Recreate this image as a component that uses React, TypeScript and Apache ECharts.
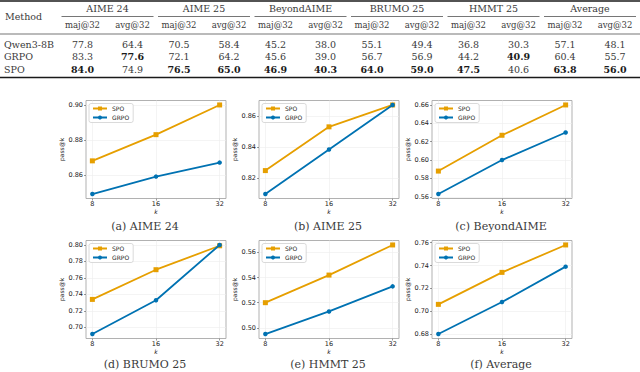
import React, { useEffect, useRef } from "react";
import * as echarts from "echarts";

// ---------- Table data ----------
const benchmarks = ["AIME 24", "AIME 25", "BeyondAIME", "BRUMO 25", "HMMT 25", "Average"];
const subHeaders = ["maj@32", "avg@32"];
const methods = ["Qwen3-8B", "GRPO", "SPO"];
const qwenScores = [77.8, 64.4, 70.5, 58.4, 45.2, 38.0, 55.1, 49.4, 36.8, 30.3, 57.1, 48.1];
const grpoScores = [83.3, 77.6, 72.1, 64.2, 45.6, 39.0, 56.7, 56.9, 44.2, 40.9, 60.4, 55.7];
const spoScores = [84.0, 74.9, 76.5, 65.0, 46.9, 40.3, 64.0, 59.0, 47.5, 40.6, 63.8, 56.0];

// ---------- Chart data (pass@k vs k) ----------
const ks = [8, 16, 32];
const spoAime24 = [0.868, 0.883, 0.900];
const grpoAime24 = [0.849, 0.859, 0.867];
const spoAime25 = [0.825, 0.853, 0.867];
const grpoAime25 = [0.810, 0.8385, 0.867];
const spoBeyond = [0.588, 0.627, 0.660];
const grpoBeyond = [0.563, 0.600, 0.630];
const spoBrumo = [0.734, 0.770, 0.799];
const grpoBrumo = [0.692, 0.733, 0.800];
const spoHmmt = [0.520, 0.542, 0.566];
const grpoHmmt = [0.495, 0.513, 0.533];
const spoAverage = [0.706, 0.734, 0.758];
const grpoAverage = [0.680, 0.708, 0.739];

const yTicksAime24 = [0.86, 0.88, 0.90];
const yTicksAime25 = [0.82, 0.84, 0.86];
const yTicksBeyond = [0.56, 0.58, 0.60, 0.62, 0.64, 0.66];
const yTicksBrumo = [0.70, 0.72, 0.74, 0.76, 0.78, 0.80];
const yTicksHmmt = [0.50, 0.52, 0.54, 0.56];
const yTicksAverage = [0.68, 0.70, 0.72, 0.74, 0.76];

const panelLetters = ["a", "b", "c", "d", "e", "f"];
const spoSeries = [spoAime24, spoAime25, spoBeyond, spoBrumo, spoHmmt, spoAverage];
const grpoSeries = [grpoAime24, grpoAime25, grpoBeyond, grpoBrumo, grpoHmmt, grpoAverage];
const yTicks = [yTicksAime24, yTicksAime25, yTicksBeyond, yTicksBrumo, yTicksHmmt, yTicksAverage];

// ---------- Styling / layout ----------
const ORANGE = "#E69F00";
const BLUE = "#0072B2";
const SERIF = "DejaVu Serif";
const SANS = "DejaVu Sans";
const INK = "#3a3a3a";
const INK_BOLD = "#1a1a1a";
const colLefts = [86, 259, 432];
const rowTops = [100.5, 240.5];
const plotW = 140;
const plotH = 98;
const captionX = [145, 328, 501];
const captionY = [226, 364];

const groupCenter0 = 107.5;
const groupStep = 96.5;
const pairHalf = 25;
const rowYs = [44, 56, 69];

function buildTableGraphics() {
  const els: any[] = [];
  const txt = (text: string, x: number, y: number, align: string, bold = false, size = 10) => ({
    type: "text",
    x,
    y,
    silent: true,
    style: {
      text,
      fontFamily: SERIF,
      fontSize: size,
      fontWeight: bold ? "bold" : "normal",
      fill: bold ? INK_BOLD : INK,
      align,
      verticalAlign: "middle",
    },
  });
  const line = (x1: number, y1: number, x2: number, y2: number, w: number) => ({
    type: "line",
    silent: true,
    shape: { x1, y1, x2, y2 },
    style: { stroke: "#1a1a1a", lineWidth: w },
  });
  els.push(line(0, 1, 640, 1, 1.4));
  els.push(txt("Method", 5, 16, "left", false, 9.5));
  const rows = [qwenScores, grpoScores, spoScores];
  benchmarks.forEach((b, g) => {
    const gc = groupCenter0 + g * groupStep;
    els.push(txt(b, gc, 8, "center", false, 9.5));
    els.push(line(gc - 46, 16.5, gc + 46, 16.5, 0.6));
    subHeaders.forEach((s, j) => {
      const cx = gc + (j === 0 ? -pairHalf : pairHalf);
      els.push(txt(s, cx, 25, "center", false, 8.5));
      const col = g * 2 + j;
      const best = Math.max(...rows.map((r) => r[col]));
      rows.forEach((r, ri) => {
        els.push(txt(r[col].toFixed(1), cx, rowYs[ri], "center", r[col] === best, 9.5));
      });
    });
  });
  els.push(line(0, 34, 640, 34, 0.6));
  methods.forEach((m, ri) => els.push(txt(m, 4, rowYs[ri], "left", false, 9.5)));
  els.push(line(0, 77.5, 640, 77.5, 1.4));
  return els;
}

function buildOption() {
  const grids: any[] = [];
  const xAxes: any[] = [];
  const yAxes: any[] = [];
  const legends: any[] = [];
  const series: any[] = [];
  const graphics: any[] = buildTableGraphics();

  const logLo = Math.log2(Math.min(...ks));
  const logHi = Math.log2(Math.max(...ks));
  const logPad = (logHi - logLo) * 0.05;

  for (let i = 0; i < 6; i++) {
    const c = i % 3;
    const r = Math.floor(i / 3);
    const left = colLefts[c];
    const top = rowTops[r];
    grids.push({
      left,
      top,
      width: plotW,
      height: plotH,
      show: true,
      borderColor: "#a8a8a8",
      borderWidth: 0.9,
      backgroundColor: "transparent",
      outerBoundsMode: "none",
      containLabel: false,
    });
    xAxes.push({
      type: "log",
      logBase: 2,
      gridIndex: i,
      min: Math.pow(2, logLo - logPad),
      max: Math.pow(2, logHi + logPad),
      axisLine: { show: false },
      axisTick: { show: true, length: 2, customValues: ks, lineStyle: { color: "#555", width: 0.6 } },
      axisLabel: { customValues: ks, fontSize: 6.5, color: "#222", margin: 2, fontFamily: SANS },
      splitLine: { show: true, lineStyle: { color: "#ececec", width: 0.6 } },
      minorTick: { show: false },
      minorSplitLine: { show: false },
      name: "k",
      nameLocation: "middle",
      nameGap: 6,
      nameTextStyle: { fontSize: 6, fontStyle: "italic", color: "#222", fontFamily: SANS },
    });
    const all = [...spoSeries[i], ...grpoSeries[i]];
    const lo = Math.min(...all);
    const hi = Math.max(...all);
    const pad = (hi - lo) * 0.05;
    yAxes.push({
      type: "value",
      gridIndex: i,
      min: lo - pad,
      max: hi + pad,
      axisLine: { show: false },
      axisTick: { show: true, length: 2, customValues: yTicks[i], lineStyle: { color: "#555", width: 0.6 } },
      axisLabel: {
        customValues: yTicks[i],
        fontSize: 6.5,
        color: "#222",
        margin: 3,
        fontFamily: SANS,
        formatter: (v: number) => v.toFixed(2),
      },
      splitLine: { show: true, lineStyle: { color: "#ececec", width: 0.6 } },
      name: "pass@k",
      nameLocation: "middle",
      nameGap: 17,
      nameTextStyle: { fontSize: 6, color: "#222", fontFamily: SANS },
    });
    legends.push({
      orient: "vertical",
      left: left + 3,
      top: top + 3,
      data: ["SPO", "GRPO"],
      selectedMode: false,
      backgroundColor: "rgba(255,255,255,0.9)",
      borderColor: "#d0d0d0",
      borderWidth: 0.8,
      borderRadius: 2,
      padding: [2, 4, 2, 3],
      itemGap: 3,
      itemWidth: 14,
      itemHeight: 5,
      textStyle: { fontSize: 6, color: "#222", fontFamily: SANS },
    });
    series.push({
      type: "line",
      name: "SPO",
      xAxisIndex: i,
      yAxisIndex: i,
      data: ks.map((k, j) => [k, spoSeries[i][j]]),
      symbol: "rect",
      symbolSize: 5,
      lineStyle: { width: 1.8, color: ORANGE },
      itemStyle: { color: ORANGE },
      z: 3,
    });
    series.push({
      type: "line",
      name: "GRPO",
      xAxisIndex: i,
      yAxisIndex: i,
      data: ks.map((k, j) => [k, grpoSeries[i][j]]),
      symbol: "circle",
      symbolSize: 4.5,
      lineStyle: { width: 1.8, color: BLUE },
      itemStyle: { color: BLUE },
      z: 4,
    });
    graphics.push({
      type: "text",
      x: captionX[c],
      y: captionY[r],
      silent: true,
      style: {
        text: `(${panelLetters[i]}) ${benchmarks[i]}`,
        fontFamily: SERIF,
        fontSize: 11,
        fill: INK,
        align: "center",
        verticalAlign: "middle",
      },
    });
  }

  return {
    animation: false,
    backgroundColor: "#ffffff",
    textStyle: { fontFamily: SANS },
    grid: grids,
    xAxis: xAxes,
    yAxis: yAxes,
    legend: legends,
    series,
    graphic: graphics,
  };
}

export default function App() {
  const ref = useRef<HTMLDivElement>(null);
  useEffect(() => {
    if (!ref.current) return;
    const chart = echarts.init(ref.current, undefined, { renderer: "svg" });
    chart.setOption(buildOption() as any);
    return () => chart.dispose();
  }, []);
  return (
    <div
      ref={ref}
      style={{ position: "absolute", left: 0, top: 0, width: 640, height: 372, background: "#fff" }}
    />
  );
}
